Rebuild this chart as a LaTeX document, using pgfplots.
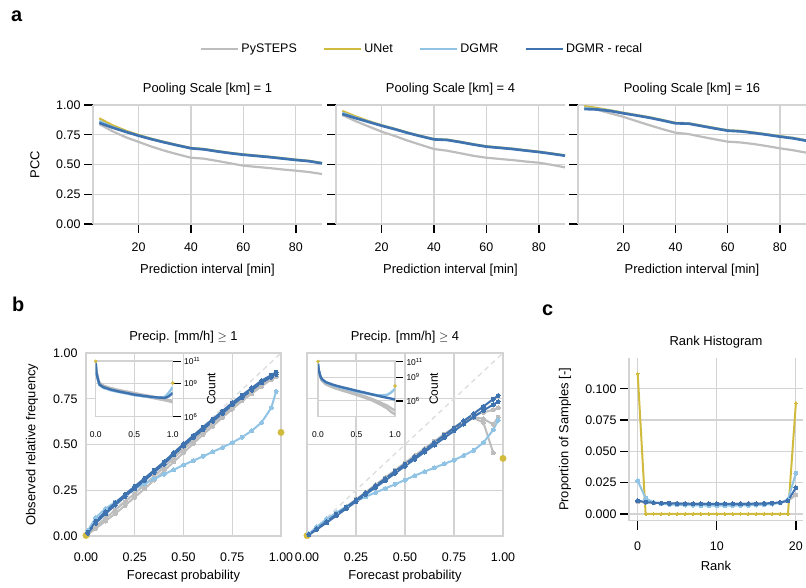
\documentclass[border=0pt]{standalone}
\usepackage{fontspec}
\setmainfont{Liberation Sans}
\usepackage{pgfplots}
\usepackage{pgfplotstable}
\pgfplotsset{compat=1.18}

\definecolor{cgray}{HTML}{BDBDBD}
\definecolor{cunet}{HTML}{D1BB3E}
\definecolor{cdgmr}{HTML}{90C3E4}
\definecolor{crecal}{HTML}{3E73B0}
\definecolor{gridc}{HTML}{D3D3D3}
\definecolor{diagc}{HTML}{DDDDDD}
\newcommand{\fs}[1]{\fontsize{#1}{#1}\selectfont}

% PCC vs lead time, one table per pooling scale
\pgfplotstableread{
t  pys   unet  dgmr  recal
5  0.840 0.888 0.865 0.850
10 0.780 0.830 0.815 0.810
15 0.730 0.785 0.777 0.775
20 0.690 0.748 0.743 0.742
25 0.650 0.716 0.713 0.712
30 0.615 0.689 0.686 0.685
35 0.585 0.663 0.661 0.660
40 0.557 0.639 0.637 0.636
45 0.549 0.630 0.628 0.627
50 0.530 0.613 0.611 0.610
55 0.510 0.598 0.596 0.595
60 0.490 0.585 0.583 0.582
65 0.480 0.575 0.573 0.572
70 0.470 0.565 0.563 0.562
75 0.458 0.553 0.551 0.550
80 0.448 0.541 0.539 0.538
85 0.437 0.531 0.529 0.528
90 0.420 0.513 0.511 0.510
}\pccA
\pgfplotstableread{
t  pys   unet  dgmr  recal
5  0.916 0.950 0.935 0.924
10 0.865 0.905 0.895 0.890
15 0.820 0.865 0.860 0.858
20 0.776 0.830 0.827 0.826
25 0.740 0.800 0.798 0.797
30 0.700 0.768 0.766 0.765
35 0.665 0.740 0.738 0.737
40 0.630 0.714 0.712 0.711
45 0.616 0.709 0.707 0.706
50 0.595 0.691 0.689 0.688
55 0.573 0.671 0.669 0.668
60 0.557 0.653 0.651 0.650
65 0.547 0.643 0.641 0.640
70 0.537 0.633 0.631 0.630
75 0.525 0.620 0.618 0.617
80 0.515 0.608 0.606 0.605
85 0.497 0.593 0.591 0.590
90 0.476 0.577 0.575 0.574
}\pccB
\pgfplotstableread{
t  pys   unet  dgmr  recal
5  0.986 0.990 0.975 0.966
10 0.960 0.975 0.966 0.962
15 0.930 0.955 0.952 0.950
20 0.900 0.935 0.932 0.930
25 0.865 0.916 0.914 0.912
30 0.830 0.897 0.895 0.893
35 0.797 0.874 0.872 0.870
40 0.767 0.850 0.848 0.846
45 0.756 0.847 0.845 0.843
50 0.733 0.827 0.825 0.823
55 0.712 0.807 0.805 0.803
60 0.692 0.788 0.786 0.784
65 0.685 0.782 0.780 0.778
70 0.672 0.769 0.767 0.765
75 0.655 0.754 0.752 0.750
80 0.636 0.738 0.736 0.734
85 0.620 0.724 0.722 0.720
90 0.600 0.704 0.702 0.700
}\pccC

% reliability diagrams
\pgfplotstableread{
p     pys1  pys2  dgmr  recal recal2
0.01  0.012 0.008 0.030 0.020 0.016
0.05  0.052 0.042 0.100 0.080 0.070
0.10  0.097 0.082 0.150 0.133 0.121
0.15  0.142 0.122 0.185 0.181 0.169
0.20  0.187 0.167 0.222 0.227 0.215
0.25  0.232 0.212 0.258 0.271 0.259
0.30  0.280 0.258 0.285 0.315 0.303
0.35  0.327 0.306 0.312 0.360 0.348
0.40  0.376 0.356 0.338 0.405 0.393
0.45  0.425 0.405 0.362 0.455 0.443
0.50  0.475 0.455 0.388 0.503 0.491
0.55  0.522 0.505 0.412 0.549 0.537
0.60  0.570 0.554 0.435 0.594 0.582
0.65  0.615 0.600 0.460 0.639 0.627
0.70  0.660 0.648 0.484 0.683 0.671
0.75  0.705 0.693 0.510 0.728 0.716
0.80  0.749 0.738 0.540 0.769 0.757
0.85  0.790 0.778 0.575 0.809 0.797
0.90  0.830 0.818 0.620 0.849 0.837
0.95  0.866 0.855 0.700 0.879 0.868
0.975 0.882 0.870 0.790 0.895 0.883
}\relA
\pgfplotstableread{
p     pys1  pys2  pys3  dgmr  recal recal2
0.01  0.008 0.006 0.007 0.012 0.008 0.007
0.05  0.042 0.038 0.040 0.050 0.040 0.036
0.10  0.080 0.076 0.078 0.093 0.079 0.073
0.15  0.120 0.115 0.118 0.128 0.118 0.111
0.20  0.160 0.154 0.157 0.160 0.157 0.149
0.25  0.200 0.194 0.197 0.190 0.197 0.188
0.30  0.240 0.234 0.237 0.215 0.236 0.227
0.35  0.280 0.274 0.277 0.238 0.275 0.266
0.40  0.320 0.314 0.317 0.260 0.314 0.304
0.45  0.360 0.354 0.357 0.283 0.354 0.343
0.50  0.400 0.393 0.396 0.306 0.393 0.382
0.55  0.440 0.433 0.436 0.330 0.432 0.420
0.60  0.478 0.472 0.475 0.352 0.471 0.459
0.65  0.517 0.511 0.514 0.373 0.511 0.497
0.70  0.556 0.550 0.553 0.394 0.550 0.536
0.75  0.593 0.588 0.590 0.415 0.590 0.574
0.80  0.630 0.620 0.625 0.440 0.629 0.612
0.85  0.660 0.645 0.650 0.468 0.668 0.650
0.90  0.675 0.620 0.640 0.510 0.708 0.686
0.95  0.690 0.455 0.610 0.580 0.748 0.718
0.975 0.700 nan   0.650 0.632 0.767 0.734
}\relB

% sample counts (insets)
\pgfplotstableread{
p    pys1    pys2    dgmr    recal
0    5e10    4e10    8e10    7e10
0.01 1.2e10  1e10    1.1e10  1e10
0.03 3e9     2.4e9   2e9     2.2e9
0.05 1.2e9   9e8     7e8     8e8
0.1  6.5e8   5e8     4e8     4.7e8
0.2  3.8e8   2.9e8   2.4e8   2.8e8
0.3  2.6e8   2e8     1.7e8   1.9e8
0.4  1.9e8   1.45e8  1.25e8  1.4e8
0.5  1.4e8   1.05e8  9e7     1e8
0.6  1e8     7.5e7   7.2e7   8e7
0.7  7.5e7   5.6e7   6e7     6.5e7
0.8  5.5e7   4.1e7   5.2e7   5.5e7
0.9  4e7     3e7     6e7     5e7
0.95 3.2e7   2.5e7   1.5e8   7e7
1.0  2.8e7   2e7     4.7e8   1.4e8
}\cntA
\pgfplotstableread{
p    pys1    pys2    dgmr    recal
0    4e10    3e10    6e10    5e10
0.01 7e9     6e9     9e9     8e9
0.03 1.2e9   1e9     1.6e9   1.5e9
0.05 4.5e8   3.8e8   6e8     6e8
0.1  1.6e8   1.3e8   2.3e8   2.5e8
0.2  6e7     4.8e7   9e7     1.1e8
0.3  3e7     2.3e7   4.8e7   6e7
0.4  1.6e7   1.2e7   2.8e7   3.5e7
0.5  8e6     5.8e6   1.6e7   2e7
0.6  4e6     2.7e6   1e7     1.2e7
0.7  1.8e6   1.2e6   6.5e6   7e6
0.8  7e5     4e5     5e6     4e6
0.9  2.5e5   1.1e5   6e6     2.5e6
0.95 1.2e5   4e4     1.2e7   2e6
1.0  6e4     2e4     3.5e7   1.5e6
}\cntB

% rank histogram
\pgfplotstableread{
r  pys    unet   dgmr   recal
0  0.0098 0.1120 0.0266 0.0106
1  0.0092 0.0000 0.0125 0.0095
2  0.0089 0.0000 0.0092 0.0090
3  0.0087 0.0000 0.0082 0.0087
4  0.0085 0.0000 0.0076 0.0085
5  0.0084 0.0000 0.0073 0.0083
6  0.0083 0.0000 0.0071 0.0082
7  0.0082 0.0000 0.0069 0.0081
8  0.0082 0.0000 0.0068 0.0080
9  0.0081 0.0000 0.0067 0.0080
10 0.0081 0.0000 0.0067 0.0080
11 0.0081 0.0000 0.0067 0.0080
12 0.0081 0.0000 0.0067 0.0080
13 0.0082 0.0000 0.0068 0.0080
14 0.0082 0.0000 0.0069 0.0081
15 0.0083 0.0000 0.0071 0.0082
16 0.0084 0.0000 0.0074 0.0084
17 0.0086 0.0000 0.0079 0.0087
18 0.0090 0.0000 0.0088 0.0092
19 0.0105 0.0000 0.0115 0.0105
20 0.0152 0.0885 0.0325 0.0210
}\rankh

\pgfplotsset{
  base/.style={scale only axis, grid=major, grid style={gridc, line width=1.2bp},
    tick label style={font=\fs{12.5}}, label style={font=\fs{13}},
    title style={font=\fs{13}},
    /pgf/number format/assume math mode=true},
  spines/.style={axis x line*=bottom, axis y line*=left,
    axis line style={draw=gridc, line width=1.3bp, -},
    every outer x axis line/.append style={-},
    every outer y axis line/.append style={-},
    tick align=outside, major tick length=9bp,
    tick style={draw=black, line width=1.4bp}},
  fix2/.style={/pgf/number format/fixed, /pgf/number format/fixed zerofill,
    /pgf/number format/precision=2},
  top/.style={base, spines, width=229bp, height=119bp,
    xmin=2.6, xmax=90, ymin=0, ymax=1,
    xtick={20,40,60,80}, ytick={0,0.25,0.5,0.75,1},
    yticklabel style={fix2}, xticklabel style={yshift=-6.5bp},
    xlabel={Prediction interval [min]},
    xlabel style={at={(axis description cs:0.5,0)}, anchor=center, yshift=-46bp}},
  tl/.style={line width=2.2bp, mark=none},
  bp/.style={base, width=195bp, height=183bp, xmin=0, xmax=1, ymin=0, ymax=1,
    xtick={0,0.25,0.5,0.75,1}, ytick={0,0.25,0.5,0.75,1},
    axis line style={draw=gridc, line width=1.3bp},
    tick style={draw=none}, major tick length=0bp,
    xticklabel style={fix2, yshift=-13bp}, yticklabel style={fix2, xshift=-5bp},
    xlabel={Forecast probability},
    xlabel style={at={(axis description cs:0.5,0)}, anchor=center, yshift=-40bp}},
  rl/.style={line width=2bp, mark=*, mark size=2bp,
    mark options={solid, line width=0bp}},
  inset/.style={scale only axis, width=77bp, height=56bp, xmin=0, xmax=1,
    axis background/.style={fill=white},
    grid=major, grid style={gridc, line width=1bp},
    axis line style={draw=gridc, line width=1.5bp},
    xtick={0,0.5,1}, xticklabels={0.0,0.5,1.0}, xtick style={draw=none},
    ytick={1e6,1e9,1e11},
    yticklabels={10\textsuperscript{6},10\textsuperscript{9},10\textsuperscript{11}},
    ytick pos=right, yticklabel pos=right,
    tick align=outside, major tick length=8bp,
    ytick style={draw=black, line width=1.4bp},
    tick label style={font=\fs{8.5}}, xticklabel style={yshift=-3.5bp},
    ylabel={Count}, ylabel style={font=\fs{12}},
    /pgf/number format/assume math mode=true},
  il/.style={line width=2.4bp, mark=none},
}

\begin{document}
\begin{tikzpicture}
\useasboundingbox (0,0) rectangle (806bp,-588bp);

\node[anchor=base west, inner sep=0, font=\fs{20}\bfseries] at (11bp,-21bp) {a};
\node[anchor=base west, inner sep=0, font=\fs{20}\bfseries] at (12bp,-311bp) {b};
\node[anchor=base west, inner sep=0, font=\fs{20}\bfseries] at (542bp,-315bp) {c};

% ---- row a ----
\begin{axis}[top, at={(93bp,-224bp)}, anchor=south west,
  title={Pooling Scale [km] = 1}, ylabel={PCC},
  ylabel style={at={(axis description cs:-0.2533,0.5)}, anchor=center},
  legend style={at={(1.4367,1.4706)}, anchor=center, draw=none, fill=none,
    font=\fs{12.5}, legend columns=4,
    /tikz/every even column/.append style={column sep=24bp}},
  legend image code/.code={\draw[#1, line width=2.6bp] (0bp,0bp) -- (37bp,0bp);}]
\addplot[tl, cgray] table[x=t, y=pys] {\pccA};
\addplot[tl, cunet] table[x=t, y=unet] {\pccA};
\addplot[tl, cdgmr] table[x=t, y=dgmr] {\pccA};
\addplot[tl, crecal, line width=2.6bp] table[x=t, y=recal] {\pccA};
\legend{PySTEPS, UNet, DGMR, DGMR - recal}
\end{axis}

\begin{axis}[top, at={(336bp,-224bp)}, anchor=south west,
  title={Pooling Scale [km] = 4}, yticklabels={}]
\addplot[tl, cgray] table[x=t, y=pys] {\pccB};
\addplot[tl, cunet] table[x=t, y=unet] {\pccB};
\addplot[tl, cdgmr] table[x=t, y=dgmr] {\pccB};
\addplot[tl, crecal, line width=2.6bp] table[x=t, y=recal] {\pccB};
\end{axis}

\begin{axis}[top, width=228bp, at={(578bp,-224bp)}, anchor=south west,
  title={Pooling Scale [km] = 16}, yticklabels={}]
\addplot[tl, cgray] table[x=t, y=pys] {\pccC};
\addplot[tl, cunet] table[x=t, y=unet] {\pccC};
\addplot[tl, cdgmr] table[x=t, y=dgmr] {\pccC};
\addplot[tl, crecal, line width=2.6bp] table[x=t, y=recal] {\pccC};
\end{axis}

% ---- row b ----
\begin{axis}[bp, at={(86bp,-536bp)}, anchor=south west,
  title={Precip. [mm/h] $\geq$ 1}, ylabel={Observed relative frequency},
  ylabel style={at={(axis description cs:-0.277,0.5)}, anchor=center}]
\addplot[diagc, line width=1.3bp, dashed, dash pattern=on 5bp off 4bp] coordinates {(0,0) (1,1)};
\addplot[rl, cgray] table[x=p, y=pys1] {\relA};
\addplot[rl, cgray] table[x=p, y=pys2] {\relA};
\addplot[cunet, only marks, mark=*, mark size=3.2bp] coordinates {(0,0.003) (1,0.566)};
\addplot[rl, cdgmr] table[x=p, y=dgmr] {\relA};
\addplot[rl, crecal] table[x=p, y=recal2] {\relA};
\addplot[rl, crecal] table[x=p, y=recal] {\relA};
\end{axis}

\begin{axis}[inset, ymode=log, at={(95.7bp,-416.7bp)}, anchor=south west, ymin=1e6, ymax=1.15e11]
\addplot[il, cgray] table[x=p, y=pys1] {\cntA};
\addplot[il, cgray] table[x=p, y=pys2] {\cntA};
\addplot[il, cdgmr] table[x=p, y=dgmr] {\cntA};
\addplot[il, crecal] table[x=p, y=recal] {\cntA};
\addplot[cunet, only marks, mark=*, mark size=1.6bp] coordinates {(0,1e11) (1,1.1e9)};
\end{axis}

\begin{axis}[bp, width=196bp, at={(307bp,-536bp)}, anchor=south west,
  title={Precip. [mm/h] $\geq$ 4}, yticklabels={}]
\addplot[diagc, line width=1.3bp, dashed, dash pattern=on 5bp off 4bp] coordinates {(0,0) (1,1)};
\addplot[rl, cgray] table[x=p, y=pys1] {\relB};
\addplot[rl, cgray] table[x=p, y=pys2] {\relB};
\addplot[rl, cgray] table[x=p, y=pys3] {\relB};
\addplot[cunet, only marks, mark=*, mark size=3.2bp] coordinates {(0,0.002) (1,0.424)};
\addplot[rl, cdgmr] table[x=p, y=dgmr] {\relB};
\addplot[rl, crecal] table[x=p, y=recal2] {\relB};
\addplot[rl, crecal] table[x=p, y=recal] {\relB};
\end{axis}

\begin{axis}[inset, ymode=log, at={(318bp,-416.7bp)}, anchor=south west, ymin=1e4, ymax=1.3e11]
\addplot[il, cgray] table[x=p, y=pys1] {\cntB};
\addplot[il, cgray] table[x=p, y=pys2] {\cntB};
\addplot[il, cdgmr] table[x=p, y=dgmr] {\cntB};
\addplot[il, crecal] table[x=p, y=recal] {\cntB};
\addplot[cunet, only marks, mark=*, mark size=1.6bp] coordinates {(0,1e11) (1,8e7)};
\end{axis}

% ---- panel c ----
\begin{axis}[base, spines, width=174bp, height=162.7bp, at={(629bp,-520.7bp)},
  anchor=south west, xmin=-1.1, xmax=20.9, ymin=-0.0054, ymax=0.1246,
  xtick={0,10,20}, ytick={0,0.025,0.05,0.075,0.1}, scaled y ticks=false,
  yticklabel style={/pgf/number format/fixed, /pgf/number format/fixed zerofill,
    /pgf/number format/precision=3},
  xticklabel style={yshift=-8.5bp},
  title={Rank Histogram}, xlabel={Rank}, ylabel={Proportion of Samples [-]},
  xlabel style={at={(axis description cs:0.5,0)}, anchor=center, yshift=-45bp},
  ylabel style={at={(axis description cs:-0.368,0.5)}, anchor=center}]
\addplot[rl, cgray] table[x=r, y=pys] {\rankh};
\addplot[rl, cunet, mark size=1.5bp] table[x=r, y=unet] {\rankh};
\addplot[rl, cdgmr] table[x=r, y=dgmr] {\rankh};
\addplot[rl, crecal] table[x=r, y=recal] {\rankh};
\end{axis}
\end{tikzpicture}
\end{document}
